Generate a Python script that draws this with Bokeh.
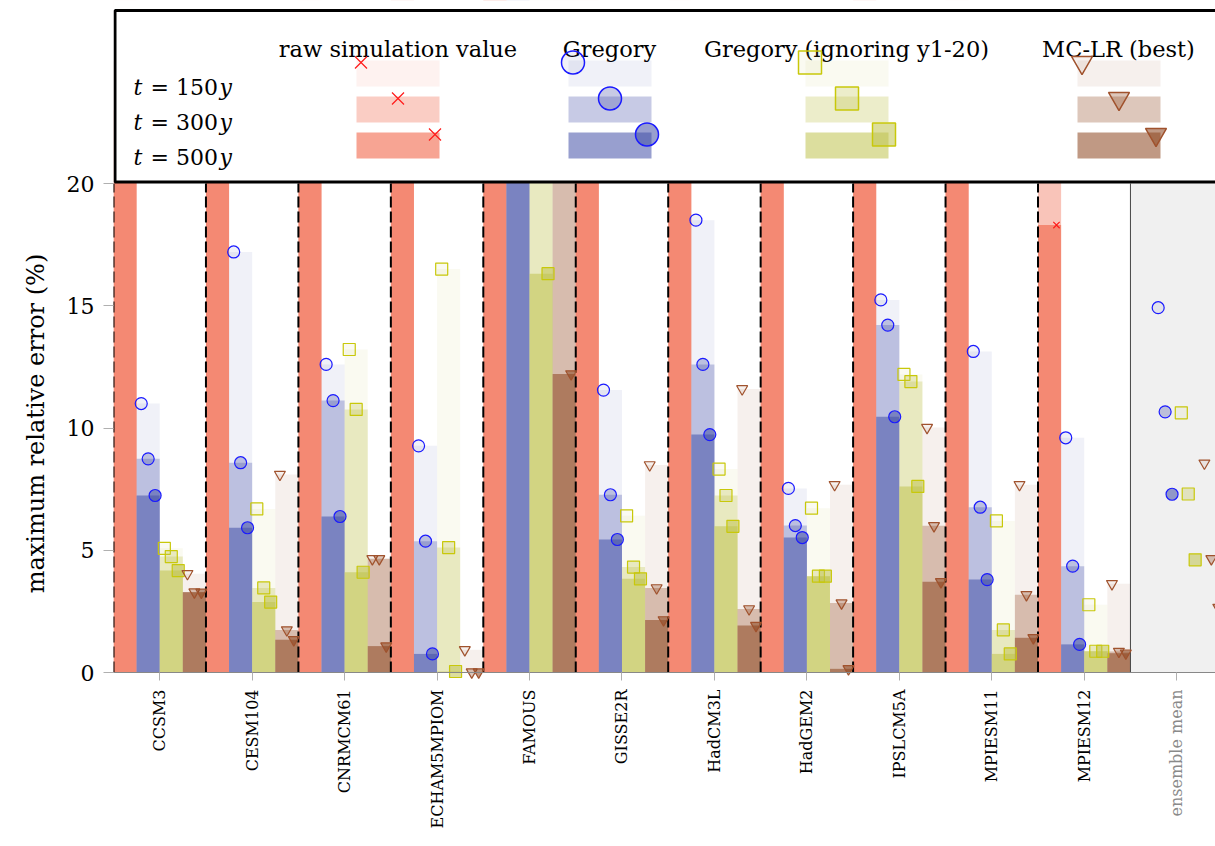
import math
from bokeh.plotting import figure
from bokeh.models import Range1d, FixedTicker
from bokeh.core.properties import value
from bokeh.embed import file_html
from bokeh.resources import INLINE

# ---------------- data ----------------
models = ["CCSM3", "CESM104", "CNRMCM61", "ECHAM5MPIOM", "FAMOUS", "GISSE2R",
          "HadCM3L", "HadGEM2", "IPSLCM5A", "MPIESM11", "MPIESM12", "ensemble mean"]
horizons = ["150", "300", "500"]

# raw simulation value (most are above the 20 % axis limit)
raw_150 = [28.0, 27.0, 29.0, 31.0, 45.0, 28.0, 30.0, 27.0, 32.0, 29.0, 25.0, 30.0]
raw_300 = [25.0, 24.0, 26.0, 28.0, 40.0, 25.0, 27.0, 24.0, 29.0, 26.0, 22.0, 27.0]
raw_500 = [23.0, 22.0, 24.0, 26.0, 36.0, 23.0, 25.0, 22.0, 27.0, 24.0, 18.3, 25.0]

# Gregory
greg_150 = [11.0, 17.2, 12.6, 9.27, 35.0, 11.55, 18.5, 7.53, 15.24, 13.13, 9.6, 14.92]
greg_300 = [8.74, 8.58, 11.12, 5.37, 30.0, 7.27, 12.6, 6.01, 14.21, 6.76, 4.35, 10.66]
greg_500 = [7.24, 5.92, 6.38, 0.76, 26.0, 5.44, 9.73, 5.52, 10.46, 3.80, 1.15, 7.29]

# Gregory (ignoring y1-20)
gign_150 = [5.08, 6.69, 13.21, 16.5, 30.0, 6.41, 8.32, 6.72, 12.19, 6.20, 2.77, 10.62]
gign_300 = [4.74, 3.46, 10.76, 5.11, 25.0, 4.31, 7.24, 3.94, 11.90, 1.74, 0.87, 7.30]
gign_500 = [4.17, 2.88, 4.10, 0.04, 16.31, 3.83, 5.98, 3.94, 7.61, 0.76, 0.87, 4.61]

# MC-LR (best)
mclr_150 = [4.04, 8.10, 4.65, 0.93, 30.0, 8.49, 11.60, 7.68, 10.02, 7.68, 3.63, 8.56]
mclr_300 = [3.29, 1.74, 4.65, 0.02, 25.0, 3.46, 2.60, 2.84, 6.00, 3.18, 0.86, 4.65]
mclr_500 = [3.28, 1.34, 1.08, 0.02, 12.21, 2.15, 1.92, 0.15, 3.71, 1.42, 0.79, 2.66]

method_names = ["raw simulation value", "Gregory", "Gregory (ignoring y1-20)", "MC-LR (best)"]
y_ticks = [0, 5, 10, 15, 20]

# ---------------- style ----------------
FONT = "DejaVu Serif"
alphas = [0.08, 0.30, 0.55]
methods = [
    dict(name=method_names[0], vals=[raw_150, raw_300, raw_500], color="#f0593a",
         marker="x", mline="#ff1a1a", size=9, lsize=17),
    dict(name=method_names[1], vals=[greg_150, greg_300, greg_500], color="#4450a8",
         marker="circle", mline="#1a1aff", size=12, lsize=23),
    dict(name=method_names[2], vals=[gign_150, gign_300, gign_500], color="#c0c24f",
         marker="square", mline="#c8c80a", size=12, lsize=23),
    dict(name=method_names[3], vals=[mclr_150, mclr_300, mclr_500], color="#8d461f",
         marker="inverted_triangle", mline="#a0522d", size=11, lsize=21),
]
bar_offsets = [-0.375, -0.125, 0.125, 0.375]
mark_dx = [-0.075, 0.0, 0.075]

n_bar = len(models) - 1          # the ensemble mean has markers only
ens = len(models) - 1
y_top = y_ticks[-1]

W, H = 1215, 846
FRAME_L = 113
Y0_PX, Y20_PX = 672, 183          # screen rows of 0 % and 20 %
ppu = (Y0_PX - Y20_PX) / y_top
group_px = 92.45

# ---------------- figure ----------------
p = figure(width=W, height=H,
           x_range=Range1d(-0.5, -0.5 + (W - FRAME_L) / group_px),
           y_range=Range1d(-(H - Y0_PX) / ppu, y_top + Y20_PX / ppu),
           output_backend="svg", toolbar_location=None, title=None,
           min_border_left=FRAME_L, min_border_right=0, min_border_top=0, min_border_bottom=0)
p.outline_line_color = None
p.xgrid.visible = False
p.ygrid.visible = False
p.background_fill_color = "white"
# pixel coordinates for the legend panel
p.extra_x_ranges = {"px": Range1d(FRAME_L, W)}
p.extra_y_ranges = {"py": Range1d(H, 0)}

# grey background of the ensemble-mean column
p.quad(left=[ens - 0.5], right=[ens + 1.0], bottom=[0], top=[y_top],
       fill_color="#f0f0f0", line_color=None)

# overlaid translucent bars
for m, off in zip(methods, bar_offsets):
    for vals, a in zip(m["vals"], alphas):
        xs = [i + off for i in range(n_bar)]
        p.vbar(x=xs, width=0.25, bottom=0, top=vals[:n_bar],
               fill_color=m["color"], fill_alpha=a, line_color=None)

# dashed separators between models
bounds = [i - 0.5 for i in range(n_bar)]
p.segment(x0=bounds, y0=[0] * len(bounds), x1=bounds, y1=[y_top] * len(bounds),
          line_color="black", line_width=2, line_dash="11 4")
p.segment(x0=[ens - 0.5], y0=[0], x1=[ens - 0.5], y1=[y_top], line_color="#444444", line_width=1)

# markers
for m, off in zip(methods, bar_offsets):
    for vals, a, dx in zip(m["vals"], alphas, mark_dx):
        xs = [i + off + dx for i in range(len(models))]
        if m["marker"] == "x":
            p.scatter(x=xs, y=vals, marker="x", size=m["size"], line_color=m["mline"], line_width=1.2)
        else:
            p.scatter(x=xs, y=vals, marker=m["marker"], size=m["size"], fill_color=m["color"],
                      fill_alpha=a, line_color=m["mline"], line_width=1.2)

# ---------------- axes ----------------
p.yaxis.ticker = FixedTicker(ticks=y_ticks)
p.yaxis.axis_label = "maximum relative error (%)"
p.yaxis.axis_label_text_font = FONT
p.yaxis.axis_label_text_font_size = "24px"
p.yaxis.axis_label_text_font_style = "normal"
p.yaxis.axis_label_text_color = "black"
p.yaxis.axis_label_standoff = 14
p.yaxis.major_label_text_font = FONT
p.yaxis.major_label_text_font_size = "22px"
p.yaxis.major_label_text_color = "black"
p.yaxis.major_label_standoff = 9
p.yaxis.major_tick_out = 10
p.yaxis.major_tick_in = 0
p.yaxis.major_tick_line_color = "#b0b0b0"
p.yaxis.minor_tick_line_color = None
p.yaxis.axis_line_color = None

p.xaxis.fixed_location = 0
p.xaxis.ticker = FixedTicker(ticks=list(range(len(models))))
overrides = {i: name for i, name in enumerate(models[:n_bar])}
overrides[ens] = ""
p.xaxis.major_label_overrides = overrides
p.xaxis.major_label_orientation = math.pi / 2
p.xaxis.major_label_text_font = FONT
p.xaxis.major_label_text_font_size = "16px"
p.xaxis.major_label_text_color = "black"
p.xaxis.major_label_standoff = 9
p.xaxis.major_tick_out = 8
p.xaxis.major_tick_in = 0
p.xaxis.major_tick_line_color = "#b0b0b0"
p.xaxis.minor_tick_line_color = None
p.xaxis.axis_line_color = "#888888"

# grey label of the ensemble-mean column
p.text(x=[ens], y=[Y0_PX + 17], y_range_name="py", text=[models[ens]], angle=math.pi / 2,
       text_align="right", text_baseline="middle", text_color="#8a8a8a",
       text_font=value(FONT), text_font_size="16px")

# ---------------- legend panel (screen-pixel coordinates) ----------------
LX, LY = dict(x_range_name="px"), dict(y_range_name="py")
p.quad(left=[FRAME_L - 5], right=[W + 50], top=[-5], bottom=[Y20_PX - 1],
       fill_color="white", line_color=None, **LX, **LY)
p.quad(left=[FRAME_L + 1.5], right=[W + 50], top=[10], bottom=[Y20_PX - 1.5],
       fill_color="white", line_color="black", line_width=3, **LX, **LY)

header_cx = [397.5, 609, 846, 1118]
patch_left = [356, 568, 805, 1077]
patch_w = 83
row_top = [60, 96, 132]
row_base = [87, 122, 157]

p.text(x=header_cx, y=[48] * 4, text=method_names, text_align="center",
       text_baseline="alphabetic", text_font=value(FONT), text_font_size="22.5px",
       text_color="black", **LX, **LY)

p.text(x=[133] * 3, y=row_base, text=["t"] * 3, text_baseline="alphabetic",
       text_font=value(FONT), text_font_style="italic", text_font_size="22px",
       text_color="black", **LX, **LY)
p.text(x=[150] * 3, y=row_base, text=["= " + h for h in horizons], text_baseline="alphabetic",
       text_font=value(FONT), text_font_size="22px", text_color="black", **LX, **LY)
p.text(x=[219] * 3, y=row_base, text=["y"] * 3, text_baseline="alphabetic",
       text_font=value(FONT), text_font_style="italic", text_font_size="22px",
       text_color="black", **LX, **LY)

for m, pl in zip(methods, patch_left):
    for k, a in enumerate(alphas):
        p.quad(left=[pl], right=[pl + patch_w], top=[row_top[k]], bottom=[row_top[k] + 26],
               fill_color=m["color"], fill_alpha=a, line_color=None, **LX, **LY)
    mx = [pl + 4.5, pl + patch_w / 2, pl + patch_w - 4.5]
    my = [t + 2 for t in row_top]
    for k, a in enumerate(alphas):
        if m["marker"] == "x":
            p.scatter(x=[mx[k]], y=[my[k]], marker="x", size=m["lsize"],
                      line_color=m["mline"], line_width=1.2, **LX, **LY)
        else:
            p.scatter(x=[mx[k]], y=[my[k]], marker=m["marker"], size=m["lsize"],
                      fill_color=m["color"], fill_alpha=a, line_color=m["mline"],
                      line_width=1.5, **LX, **LY)

open("out.html", "w").write(file_html(p, INLINE))
